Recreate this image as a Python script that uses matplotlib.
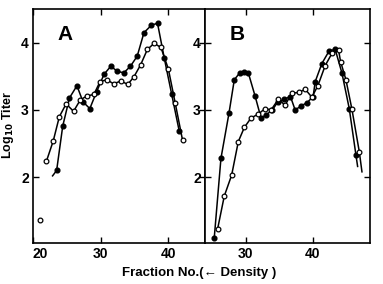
import matplotlib.pyplot as plt

# Panel A
a_closed_x = [22.9, 23.5, 24.4, 25.4, 26.5, 27.4, 28.4, 29.4, 30.5, 31.5, 32.4, 33.4, 34.4, 35.4, 36.4, 37.5, 38.4, 39.4, 40.5, 41.6]
a_closed_y = [2.02, 2.10, 2.76, 3.18, 3.36, 3.12, 3.02, 3.27, 3.53, 3.65, 3.58, 3.55, 3.65, 3.80, 4.15, 4.26, 4.29, 3.77, 3.23, 2.69]
a_open_x = [22.0, 23.0, 23.9, 24.9, 26.0, 27.0, 28.0, 29.0, 29.9, 30.9, 31.9, 33.0, 34.0, 34.9, 35.9, 36.9, 37.9, 38.9, 40.0, 41.0, 42.1]
a_open_y = [2.24, 2.54, 2.90, 3.09, 2.98, 3.15, 3.21, 3.23, 3.42, 3.45, 3.39, 3.43, 3.38, 3.49, 3.67, 3.90, 3.99, 3.93, 3.61, 3.11, 2.55]
a_lone_x = [21.0]
a_lone_y = [1.37]

# Panel B
b_closed_x = [25.3, 26.3, 27.5, 28.3, 29.1, 29.8, 30.4, 31.4, 32.3, 33.1, 34.0, 34.8, 35.8, 36.7, 37.4, 38.3, 39.2, 40.1, 40.4, 41.4, 42.5, 43.4, 44.4, 45.5, 46.5, 46.75]
b_closed_y = [1.10, 2.28, 2.95, 3.45, 3.55, 3.57, 3.55, 3.21, 2.88, 2.93, 3.00, 3.12, 3.16, 3.20, 3.00, 3.06, 3.11, 3.20, 3.42, 3.69, 3.88, 3.90, 3.55, 3.02, 2.33, 2.16]
b_open_x = [25.8, 26.8, 27.9, 28.9, 29.8, 30.8, 31.9, 32.9, 33.8, 34.9, 35.9, 36.9, 38.0, 38.9, 39.9, 40.8, 41.9, 42.9, 43.9, 44.2, 45.0, 45.9, 47.0, 47.4]
b_open_y = [1.23, 1.72, 2.03, 2.53, 2.74, 2.88, 2.94, 3.02, 3.00, 3.16, 3.07, 3.25, 3.26, 3.31, 3.19, 3.36, 3.66, 3.84, 3.89, 3.72, 3.45, 3.01, 2.38, 2.08]

plt.rcParams['font.family'] = ['Liberation Sans', 'DejaVu Sans']
plt.rcParams['font.weight'] = 'bold'

fig = plt.figure(figsize=(3.83, 2.84), dpi=100)
axA = fig.add_axes([0.086, 0.144, 0.449, 0.824])
axB = fig.add_axes([0.535, 0.144, 0.431, 0.824])

ms = 3.4
lw = 1.1

axA.plot(a_closed_x, a_closed_y, '-o', color='black', ms=ms, lw=lw, markevery=list(range(1, len(a_closed_x))))
axA.plot(a_open_x, a_open_y, '-o', color='black', mfc='white', mec='black', ms=ms, lw=lw, mew=0.9)
axA.plot(a_lone_x, a_lone_y, 'o', mfc='white', mec='black', ms=ms, mew=0.9)

axB.plot(b_closed_x, b_closed_y, '-o', color='black', ms=ms, lw=lw, markevery=list(range(len(b_closed_x) - 1)))
axB.plot(b_open_x, b_open_y, '-o', color='black', mfc='white', mec='black', ms=ms, lw=lw, mew=0.9, markevery=list(range(len(b_open_x) - 1)))

axA.set_xlim(20, 45.4)
axB.set_xlim(23.9, 48.6)
for ax in (axA, axB):
    ax.set_ylim(1.02, 4.5)
    ax.set_yticks([2, 3, 4])
    ax.set_xticks([30, 40] if ax is axB else [20, 30, 40])
    ax.tick_params(direction='in', top=True, right=True, length=4, width=1, labelsize=10, pad=3)
    for s in ax.spines.values():
        s.set_linewidth(1.2)

axA.get_xticklabels()[0].set_horizontalalignment('left')
axA.text(0.14, 0.87, 'A', transform=axA.transAxes, fontsize=15)
axB.text(0.15, 0.87, 'B', transform=axB.transAxes, fontsize=15)

fig.text(0.52, 0.04, 'Fraction No.(\u2190 Density )', ha='center', va='center', fontsize=9.5)
fig.text(0.021, 0.56, 'Log$_{10}$ Titer', rotation=90, ha='center', va='center', fontsize=9)

fig.savefig('out.png', dpi=100)
